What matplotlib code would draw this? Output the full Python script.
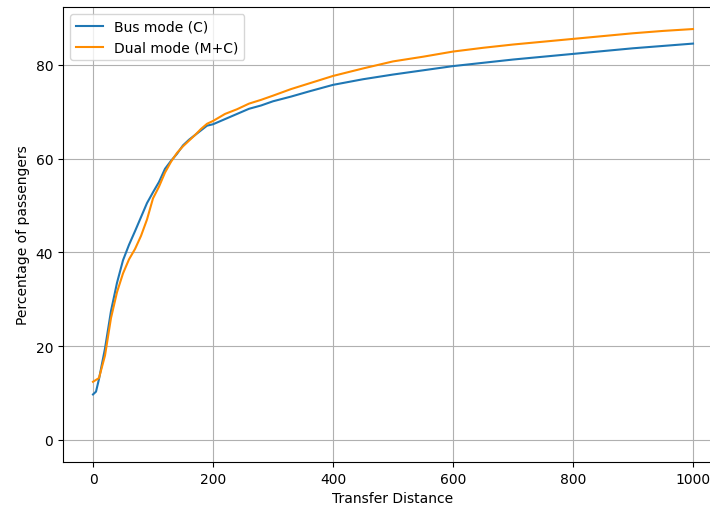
import numpy as np
import matplotlib.pyplot as plt
plt.switch_backend("agg")

dist = [0, 5, 10, 20, 30, 40, 50, 60, 70, 80, 90, 100, 110, 120, 130, 140,
        150, 160, 170, 180, 190, 200, 220, 240, 260, 280, 300, 330, 360, 400,
        450, 500, 550, 600, 650, 700, 750, 800, 850, 900, 950, 1000]

bus = [9.7, 10.3, 13.0, 19.5, 27.5, 33.5, 38.3, 41.6, 44.5, 47.5, 50.5, 52.8,
       55.0, 57.8, 59.5, 61.0, 62.8, 64.0, 65.0, 66.0, 67.0, 67.3, 68.4, 69.5,
       70.6, 71.3, 72.2, 73.2, 74.3, 75.7, 76.9, 77.9, 78.8, 79.7, 80.4, 81.1,
       81.7, 82.3, 82.9, 83.5, 84.0, 84.5]

dual = [12.4, 12.8, 13.2, 18.0, 26.0, 31.5, 35.5, 38.5, 40.7, 43.5, 47.0, 51.5,
        54.0, 57.0, 59.3, 61.2, 62.6, 63.8, 65.0, 66.3, 67.4, 68.0, 69.5, 70.5,
        71.7, 72.5, 73.4, 74.8, 76.0, 77.6, 79.2, 80.7, 81.7, 82.8, 83.6, 84.3,
        84.9, 85.5, 86.1, 86.7, 87.2, 87.6]

fig = plt.figure(figsize=(7.1, 5.06), dpi=100)
ax = fig.add_axes([63/710, 43/506, 660/710, 455/506])

ax.plot(dist, bus, color="#1f77b4", label="Bus mode (C)", linewidth=1.5)
ax.plot(dist, dual, color="darkorange", label="Dual mode (M+C)", linewidth=1.5)

ax.set_xlim(-50, 1050)
ax.set_ylim(-4.7, 92.3)
ax.set_xticks(np.arange(0, 1001, 200))
ax.set_yticks(np.arange(0, 81, 20))
ax.grid(True)
ax.set_xlabel("Transfer Distance")
ax.set_ylabel("Percentage of passengers")
ax.legend(loc="upper left")

plt.savefig("out.png", dpi=100)
